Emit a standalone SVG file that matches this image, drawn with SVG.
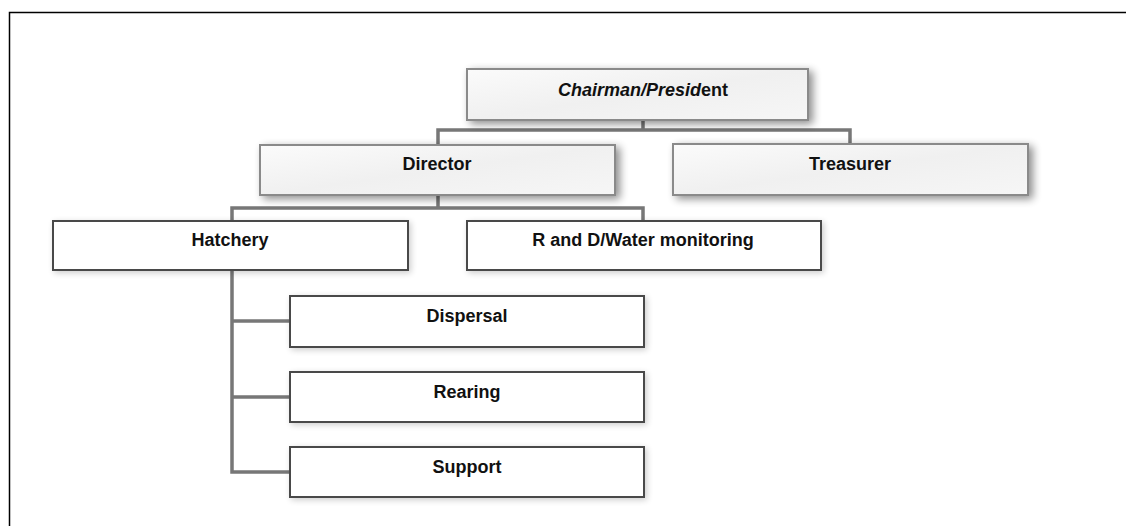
<svg xmlns="http://www.w3.org/2000/svg" width="1126" height="526" viewBox="0 0 1126 526">
<defs>
<linearGradient id="g1" x1="0" y1="0" x2="1" y2="1">
<stop offset="0" stop-color="#fbfbfb"/>
<stop offset="0.5" stop-color="#f0f0f0"/>
<stop offset="1" stop-color="#f6f6f6"/>
</linearGradient>
<filter id="sh" x="-10%" y="-40%" width="125%" height="190%">
<feGaussianBlur in="SourceAlpha" stdDeviation="4"/>
<feOffset dx="4" dy="3" result="b"/>
<feComponentTransfer><feFuncA type="linear" slope="0.45"/></feComponentTransfer>
<feMerge><feMergeNode/><feMergeNode in="SourceGraphic"/></feMerge>
</filter>
<filter id="sh2" x="-10%" y="-40%" width="125%" height="190%">
<feGaussianBlur in="SourceAlpha" stdDeviation="3"/>
<feOffset dx="2" dy="2" result="b"/>
<feComponentTransfer><feFuncA type="linear" slope="0.2"/></feComponentTransfer>
<feMerge><feMergeNode/><feMergeNode in="SourceGraphic"/></feMerge>
</filter>
</defs>
<style>
.top{fill:url(#g1);stroke:#8a8a8a;stroke-width:2;filter:url(#sh)}
.low{fill:#fff;stroke:#4a4a4a;stroke-width:2;filter:url(#sh2)}
.t{font-family:"Liberation Sans",Arial,sans-serif;font-weight:bold;font-size:18px;fill:#111;text-anchor:middle}
.c{fill:none;stroke:#777;stroke-width:3.5}
</style>
<rect width="1126" height="526" fill="#fff"/>
<path d="M9.5 526 V12.5 H1126" fill="none" stroke="#000" stroke-width="1.5"/>
<g id="connectors">
<path class="c" d="M643 120 V130 M438 145 V130 H850 V144"/>
<path class="c" d="M438 195 V208 M232 221 V208 H643 V221"/>
<path class="c" d="M232 270 V472 H290 M232 321 H290 M232 397 H290"/>
</g>
<g id="chairman">
<rect class="top" x="467" y="69" width="341" height="51"/>
<text class="t" x="643" y="96"><tspan font-style="italic">Chairman/Presid</tspan>ent</text>
</g>
<g id="director">
<rect class="top" x="260" y="145" width="355" height="50"/>
<text class="t" x="437" y="170">Director</text>
</g>
<g id="treasurer">
<rect class="top" x="673" y="144" width="355" height="51"/>
<text class="t" x="850" y="170">Treasurer</text>
</g>
<g id="hatchery">
<rect class="low" x="53" y="221" width="355" height="49"/>
<text class="t" x="230" y="246">Hatchery</text>
</g>
<g id="rd">
<rect class="low" x="467" y="221" width="354" height="49"/>
<text class="t" x="643" y="246">R and D/Water monitoring</text>
</g>
<g id="dispersal">
<rect class="low" x="290" y="296" width="354" height="51"/>
<text class="t" x="467" y="322">Dispersal</text>
</g>
<g id="rearing">
<rect class="low" x="290" y="372" width="354" height="50"/>
<text class="t" x="467" y="398">Rearing</text>
</g>
<g id="support">
<rect class="low" x="290" y="447" width="354" height="50"/>
<text class="t" x="467" y="473">Support</text>
</g>
</svg>
